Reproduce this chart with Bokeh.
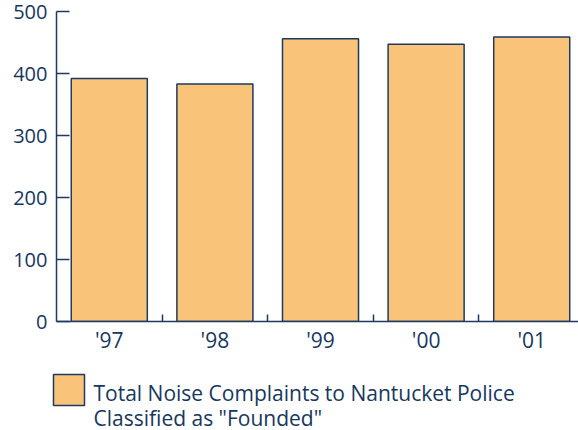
from bokeh.plotting import figure
from bokeh.layouts import column, row
from bokeh.models import ColumnDataSource, Range1d, FixedTicker
from bokeh.core.properties import value
from bokeh.embed import file_html
from bokeh.resources import INLINE

# Founded noise complaints per year
years = ["'97", "'98", "'99", "'00", "'01"]
complaints = [392, 383, 456, 447, 459]
y_ticks = [0, 100, 200, 300, 400, 500]
legend_lines = ["Total Noise Complaints to Nantucket Police", "Classified as \"Founded\""]

TEXT = "#17375E"
LINE = "#1E3A5F"
FILL = "#F9C47A"
FONT = "Open Sans"

xpos = [i + 0.5 for i in range(len(years))]
source = ColumnDataSource(data=dict(x=xpos, year=years, value=complaints))

p = figure(width=578, height=357, output_backend="svg", toolbar_location=None,
           x_range=Range1d(0, 4.943), y_range=Range1d(0, 500),
           min_border_left=56, min_border_right=0, min_border_top=11,
           min_border_bottom=36)
p.outline_line_color = None
p.xgrid.visible = False
p.ygrid.visible = False

bar_style = dict(fill_color=FILL, line_color=LINE, line_width=1.5)
p.vbar(x="x", top="value", width=0.72, source=source, **bar_style)

# x axis: labels at category centres, small ticks between categories
xa = p.xaxis[0]
xa.ticker = FixedTicker(ticks=xpos, minor_ticks=list(range(1, len(years))))
xa.major_label_overrides = {x: y for x, y in zip(xpos, years)}
xa.major_tick_in = 0
xa.major_tick_out = 0
xa.minor_tick_in = 7
xa.minor_tick_out = 0
xa.minor_tick_line_color = LINE
xa.minor_tick_line_width = 1.5
xa.axis_line_color = LINE
xa.axis_line_width = 1.5
xa.major_label_text_font = FONT
xa.major_label_text_font_size = "21px"
xa.major_label_text_color = TEXT
xa.major_label_standoff = 4

ya = p.yaxis[0]
ya.ticker = FixedTicker(ticks=y_ticks)
ya.major_tick_in = 13
ya.major_tick_out = 0
ya.minor_tick_in = 0
ya.minor_tick_out = 0
ya.major_tick_line_color = LINE
ya.major_tick_line_width = 1.5
ya.axis_line_color = LINE
ya.axis_line_width = 1.5
ya.major_label_text_font = FONT
ya.major_label_text_font_size = "20px"
ya.major_label_text_color = TEXT
ya.major_label_standoff = 9

# legend strip under the chart, laid out in pixel units (y grows downward)
lg = figure(width=578, height=73, output_backend="svg", toolbar_location=None,
            x_range=Range1d(0, 578), y_range=Range1d(73, 0),
            x_axis_location=None, y_axis_location=None,
            min_border_left=0, min_border_right=0, min_border_top=0,
            min_border_bottom=0)
lg.grid.visible = False
lg.outline_line_color = None

lg.quad(left=[53], right=[84], top=[17], bottom=[48], **bar_style)
lg.text(x=[93, 93], y=[35, 60], text=legend_lines, text_font=value(FONT),
        text_font_size="21px", text_color=TEXT, text_baseline="middle",
        text_align="left")

# the legend strip is nested so its frame is not aligned with the chart's frame
layout = column(p, row(lg, spacing=0), spacing=0)
open("out.html", "w").write(file_html(layout, INLINE))
